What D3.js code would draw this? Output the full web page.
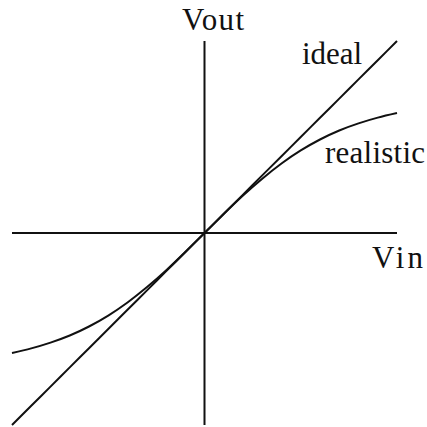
<!DOCTYPE html>
<html>
<head>
<meta charset="utf-8">
<script src="https://cdn.jsdelivr.net/npm/d3@7"></script>
<style>
  body { margin: 0; background: #fff; }
  text { font-family: "Liberation Serif", "DejaVu Serif", serif; fill: #111; }
</style>
</head>
<body>
<svg id="chart" width="427" height="427"></svg>
<script>
// input/output voltages, normalised to the axis extent (-1 .. 1)
const vin = [-1, -0.9, -0.8, -0.7, -0.6, -0.5, -0.4, -0.3, -0.2, -0.1, 0,
             0.1, 0.2, 0.3, 0.4, 0.5, 0.6, 0.7, 0.8, 0.9, 1];
const idealOut = vin.slice();
const realisticOut = [-0.625, -0.601, -0.571, -0.534, -0.487, -0.430, -0.362, -0.283, -0.195, -0.099, 0,
                      0.099, 0.195, 0.283, 0.362, 0.430, 0.487, 0.534, 0.571, 0.601, 0.625];
const axisLabels = ["Vin", "Vout"];
const curveLabels = ["ideal", "realistic"];

const svg = d3.select("#chart");

// scales: Vin across, Vout up
const x = d3.scaleLinear().domain([-1, 1]).range([12, 397]);
const y = d3.scaleLinear().domain([-1, 1]).range([425, 41]);

// axes through the origin
svg.append("line")
  .attr("x1", x(-1)).attr("x2", x(1))
  .attr("y1", y(0)).attr("y2", y(0))
  .attr("stroke", "#111").attr("stroke-width", 2);
svg.append("line")
  .attr("x1", x(0)).attr("x2", x(0))
  .attr("y1", y(-1)).attr("y2", y(1))
  .attr("stroke", "#111").attr("stroke-width", 2);

const line = d3.line()
  .x(d => x(d[0]))
  .y(d => y(d[1]))
  .curve(d3.curveNatural);

[idealOut, realisticOut].forEach(out => {
  svg.append("path")
    .datum(vin.map((v, i) => [v, out[i]]))
    .attr("d", line)
    .attr("fill", "none")
    .attr("stroke", "#111")
    .attr("stroke-width", 2);
});

// labels
const fs = 31;
function label(txt, lx, ly, len) {
  svg.append("text").text(txt)
    .attr("x", lx).attr("y", ly)
    .attr("font-size", fs)
    .attr("textLength", len)
    .attr("lengthAdjust", "spacing");
}
label(axisLabels[1], 182, 30, 62);
label(axisLabels[0], 372, 268, 51);
label(curveLabels[0], 302, 64, 60);
label(curveLabels[1], 325, 163, 100);
</script>
</body>
</html>
